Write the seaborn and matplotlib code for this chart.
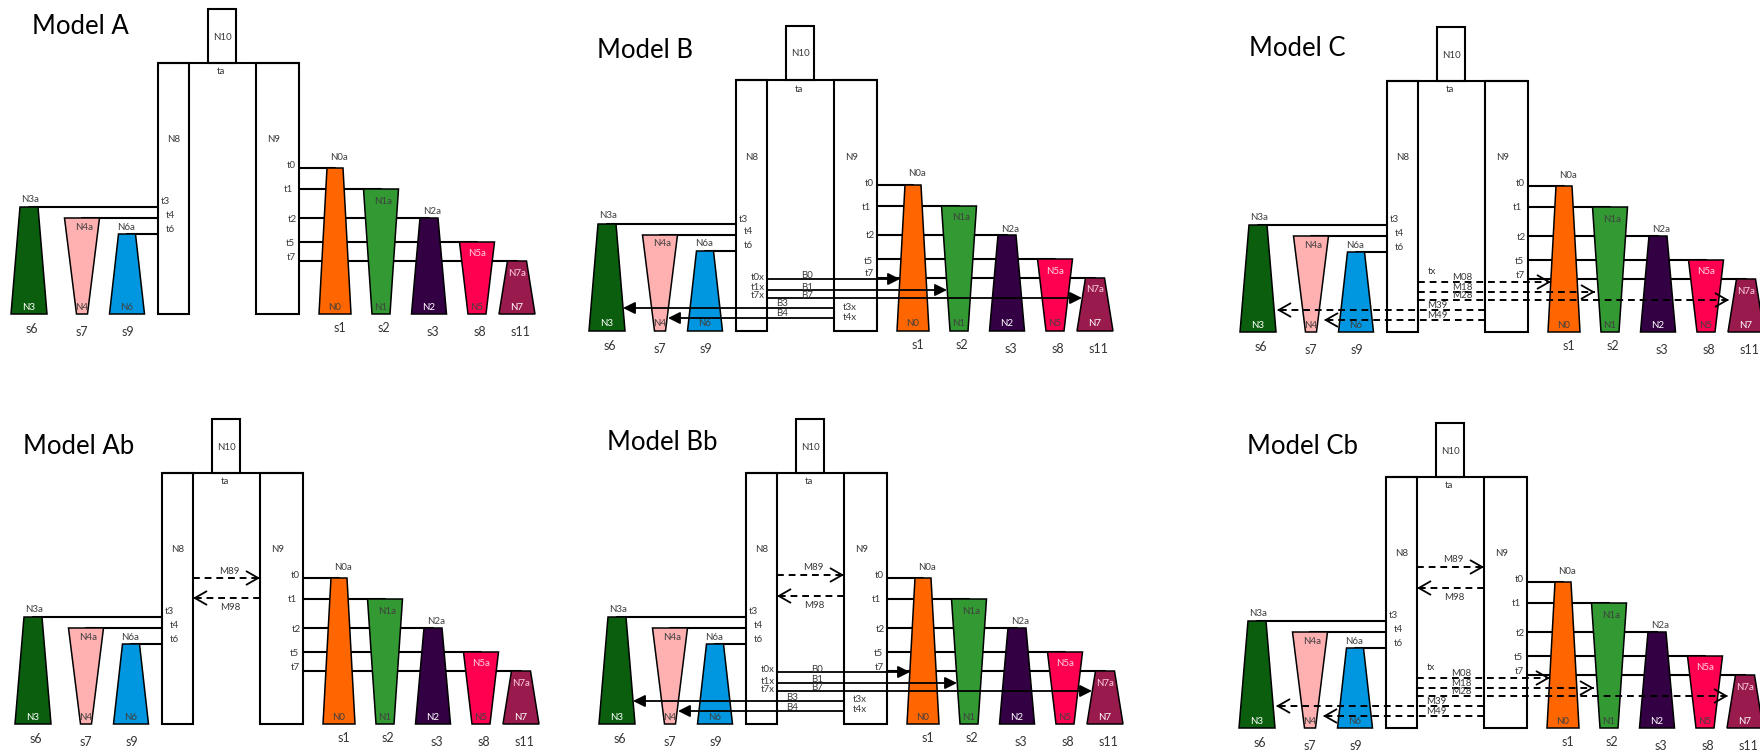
import numpy as np
import pandas as pd
import seaborn as sns
import matplotlib.pyplot as plt
from matplotlib.patches import Polygon, Rectangle

# panels: name, offset of each panel from the "Model A" frame (px)
panel_names = ["Model A", "Model B", "Model C", "Model Ab", "Model Bb", "Model Cb"]
panel_dx = [0, 578, 1229, 4, 588, 1228]
panel_dy = [0, 17, 18, 410, 410, 414]
title_x = [32, 597, 1249, 23, 607, 1247]
title_y = [27, 50, 49, 447, 443, 447]
has_b = [False, True, False, False, True, False]
has_m = [False, False, True, False, False, True]
has_m89 = [False, False, False, True, True, True]
m89_y = [0, 0, 0, 168, 165, 153]
m98_y = [0, 0, 0, 188, 186, 174]

# root boxes (Model A frame)
n8_x = [158, 189]
n9_x = [256, 299]
n10_x = [208, 236]
n10_top = 9
box_top = 63
box_bot = 314

# sampled populations
pops = ["N3", "N4", "N6", "N0", "N1", "N2", "N5", "N7"]
pop_colors = ["#0b5e0e", "#ffb0b0", "#0096e0", "#ff6600", "#339933", "#330044", "#ff0050", "#991a4d"]
pop_x = [29, 82, 127, 335, 381, 429, 477, 517]
pop_top_y = [207, 218, 234, 168, 189, 218, 242, 261]
pop_top_hw = [9, 17.5, 8.5, 8, 17.5, 9, 17.5, 9.5]
pop_bot_hw = [18, 5.5, 17.5, 16, 9, 17.5, 9, 18]
tip_color = ["white", "#404040", "#404040", "#404040", "#404040", "white", "#404040", "white"]
anc_labels = ["N3a", "N4a", "N6a", "N0a", "N1a", "N2a", "N5a", "N7a"]
anc_x = [30, 84, 126, 339, 383, 432, 477, 517]
anc_y = [199, 227, 227, 157, 201, 212, 254, 273]
anc_color = ["#404040", "#404040", "#404040", "#404040", "#404040", "#404040", "#ffd0e0", "#ffd0e0"]
samples = ["s6", "s7", "s9", "s1", "s2", "s3", "s8", "s11"]
sample_x = [32, 82, 128, 340, 384, 433, 480, 520]
sample_y = [329, 332, 332, 328, 328, 332, 332, 332]
times = ["t3", "t4", "t6", "t0", "t1", "t2", "t5", "t7"]
time_x = [165, 170, 170, 291, 288, 292, 290, 291]
time_y = [202, 215, 229, 166, 190, 219, 244, 257]

# admixture pulses (Model B)
b_names = ["B0", "B1", "B7", "B3", "B4"]
b_times = ["t0x", "t1x", "t7x", "t3x", "t4x"]
b_y = [262, 273, 281, 291, 301]
b_from = [189, 189, 189, 256, 256]
b_to = [322, 369, 504, 45, 90]

# continuous migration (Model C)
m_names = ["M08", "M18", "M28", "M39", "M49"]
m_y = [264, 274, 282, 292, 302]
m_from = [189, 189, 189, 256, 256]
m_to = [322, 366, 500, 48, 95]

sns.set_theme(style="white")
plt.rcParams["font.family"] = ["Lato", "DejaVu Sans"]

fig = plt.figure(figsize=(17.6, 7.52), dpi=100)
ax = fig.add_axes([0, 0, 1, 1])
ax.set_xlim(0, 1760)
ax.set_ylim(752, 0)
ax.axis("off")

lab = dict(fontsize=7, color="#3a3a3a", ha="center", va="center", zorder=7)


def arrow(x0, x1, y, dashed):
    if dashed:
        ax.plot([x0, x1], [y, y], color="black", lw=1.4, ls=(0, (3.5, 2.5)), zorder=5)
        d = 1 if x1 > x0 else -1
        ax.annotate("", xy=(x1, y), xytext=(x1 - 3 * d, y),
                    arrowprops=dict(arrowstyle="->,head_length=0.7,head_width=0.4",
                                    lw=1.3, color="black", shrinkA=0, shrinkB=0,
                                    mutation_scale=12), zorder=5)
    else:
        ax.annotate("", xy=(x1, y), xytext=(x0, y),
                    arrowprops=dict(arrowstyle="-|>,head_length=0.6,head_width=0.3",
                                    lw=1.3, color="black", shrinkA=0, shrinkB=0,
                                    mutation_scale=12), zorder=5)


for p, name in enumerate(panel_names):
    dx, dy = panel_dx[p], panel_dy[p]
    ax.text(title_x[p], title_y[p], name, fontsize=18.5, color="black",
            ha="left", va="center", zorder=7)

    # root boxes
    ax.add_patch(Rectangle((n10_x[0] + dx, n10_top + dy), n10_x[1] - n10_x[0],
                           box_top - n10_top, fc="white", ec="black", lw=1.5, zorder=2))
    for bx in (n8_x, n9_x):
        ax.add_patch(Rectangle((bx[0] + dx, box_top + dy), bx[1] - bx[0],
                               box_bot - box_top, fc="white", ec="black", lw=1.5, zorder=2))
    ax.plot([n8_x[0] + dx, n9_x[1] + dx], [box_top + dy, box_top + dy],
            color="black", lw=1.5, zorder=2)
    ax.text(sum(n10_x) / 2 + dx, 37 + dy, "N10", **lab)
    ax.text(221 + dx, 72 + dy, "ta", **lab)
    ax.text(174 + dx, 140 + dy, "N8", **lab)
    ax.text(274 + dx, 140 + dy, "N9", **lab)

    # populations
    for i, pop in enumerate(pops):
        cx, ty = pop_x[i] + dx, pop_top_y[i] + dy
        by = box_bot + dy
        edge = n8_x[0] + dx if i < 3 else n9_x[1] + dx
        ax.plot([cx, edge], [ty, ty], color="black", lw=1.5, zorder=1)
        poly = [(cx - pop_top_hw[i], ty), (cx + pop_top_hw[i], ty),
                (cx + pop_bot_hw[i], by), (cx - pop_bot_hw[i], by)]
        ax.add_patch(Polygon(poly, closed=True, fc=pop_colors[i], ec="black",
                             lw=1.1, zorder=3))
        ax.text(cx, by - 7, pop, fontsize=7, color=tip_color[i],
                ha="center", va="center", zorder=7)
        ax.text(anc_x[i] + dx, anc_y[i] + dy, anc_labels[i], fontsize=7,
                color=anc_color[i], ha="center", va="center", zorder=7)
        ax.text(sample_x[i] + dx, sample_y[i] + dy, samples[i], fontsize=9,
                color="#333333", ha="center", va="center", zorder=7)
        ax.text(time_x[i] + dx, time_y[i] + dy, times[i], **lab)

    if has_m89[p]:
        arrow(n8_x[1] + dx, n9_x[0] + dx, m89_y[p] + dy, True)
        arrow(n9_x[0] + dx, n8_x[1] + dx, m98_y[p] + dy, True)
        ax.text(225 + dx, m89_y[p] - 7 + dy, "M89", **lab)
        ax.text(226 + dx, m98_y[p] + 10 + dy, "M98", **lab)

    if has_b[p]:
        for k in range(5):
            arrow(b_from[k] + dx, b_to[k] + dx, b_y[k] + dy, False)
            if k < 3:
                ax.text(229 + dx, b_y[k] - 3 + dy, b_names[k], **lab)
                ax.text(180 + dx, b_y[k] - 2 + dy, b_times[k], **lab)
            else:
                ax.text(204 + dx, b_y[k] - 4 + dy, b_names[k], **lab)
                ax.text(272 + dx, b_y[k] - 1 + dy, b_times[k], **lab)

    if has_m[p]:
        ax.text(203 + dx, 254 + dy, "tx", **lab)
        for k in range(5):
            arrow(m_from[k] + dx, m_to[k] + dx, m_y[k] + dy, True)
            lx = 233 if k < 3 else 208
            ax.text(lx + dx, m_y[k] - 4 + dy, m_names[k], **lab)

fig.savefig("out.png", dpi=100, facecolor="white")
